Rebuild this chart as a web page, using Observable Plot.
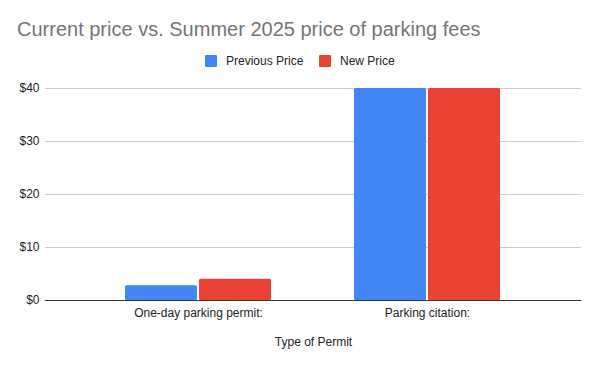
<!DOCTYPE html>
<html>
<head>
<meta charset="utf-8">
<script src="https://cdn.jsdelivr.net/npm/d3@7"></script>
<script src="https://cdn.jsdelivr.net/npm/@observablehq/plot@0.6"></script>
<style>
  html, body { margin: 0; padding: 0; background: #fff; width: 600px; height: 371px; overflow: hidden; }
  body { position: relative; font-family: "Liberation Sans", Arial, sans-serif; }
  #title { position: absolute; left: 17px; top: 18px; font-size: 20px; color: #757575; white-space: nowrap; }
  #legend { position: absolute; left: 0; top: 52px; width: 600px; height: 18px; }
  .item { position: absolute; top: 0; font-size: 12px; color: #222; white-space: nowrap; line-height: 18px; }
  .sw { position: absolute; top: 3px; width: 12px; height: 12px; border-radius: 1px; }
  #chart { position: absolute; left: 0; top: 75px; }
</style>
</head>
<body>
<div id="title"></div>
<div id="legend"></div>
<div id="chart"></div>
<script>
const title = "Current price vs. Summer 2025 price of parking fees";
const categories = ["One-day parking permit:", "Parking citation:"];
const series = ["Previous Price", "New Price"];
const previousPrice = [2.8, 40];
const newPrice = [4, 40];
const yTicks = [0, 10, 20, 30, 40];
const xTitle = "Type of Permit";
const colors = ["#4285F4", "#EA4335"];

document.getElementById("title").textContent = title;

// legend
const legend = document.getElementById("legend");
const legendPos = [205, 319];
series.forEach((s, i) => {
  const sw = document.createElement("div");
  sw.className = "sw";
  sw.style.left = legendPos[i] + "px";
  sw.style.background = colors[i];
  legend.appendChild(sw);
  const t = document.createElement("div");
  t.className = "item";
  t.style.left = (legendPos[i] + 21) + "px";
  t.textContent = s;
  legend.appendChild(t);
});

const data = [];
categories.forEach((c, i) => {
  data.push({category: c, series: series[0], value: previousPrice[i]});
  data.push({category: c, series: series[1], value: newPrice[i]});
});

const bandwidth = 146;
const half = bandwidth / 2;

const chart = Plot.plot({
  width: 600,
  height: 296,
  marginLeft: 45,
  marginRight: 19,
  marginTop: 13,
  marginBottom: 71,
  style: {fontFamily: "'Liberation Sans', Arial, sans-serif", fontSize: "12px", color: "#222", background: "#fff"},
  x: {domain: categories, paddingInner: 0.3624, paddingOuter: 0.3515, align: 0.5, label: null},
  y: {domain: [0, 40], label: null},
  color: {domain: series, range: colors},
  marks: [
    Plot.ruleY(yTicks.filter(d => d > 0), {y: d => d, stroke: "#cccccc", strokeWidth: 1}),
    Plot.barY(data.filter(d => d.series === series[0]), {x: "category", y: "value", fill: "series", insetRight: half + 1, rx: 1.5}),
    Plot.barY(data.filter(d => d.series === series[1]), {x: "category", y: "value", fill: "series", insetLeft: half + 1, rx: 1.5}),
    Plot.ruleY([0], {stroke: "#333333", strokeWidth: 1}),
    Plot.axisY({ticks: yTicks, tickFormat: d => "$" + d, tickSize: 0, tickPadding: 6, fontSize: 12, label: null}),
    Plot.axisX({tickSize: 0, tickPadding: 8, fontSize: 12, label: null}),
    Plot.text([xTitle], {frameAnchor: "bottom", dy: 45, text: d => d, fontSize: 12, fill: "#222"})
  ]
});
document.getElementById("chart").appendChild(chart);
</script>
</body>
</html>
